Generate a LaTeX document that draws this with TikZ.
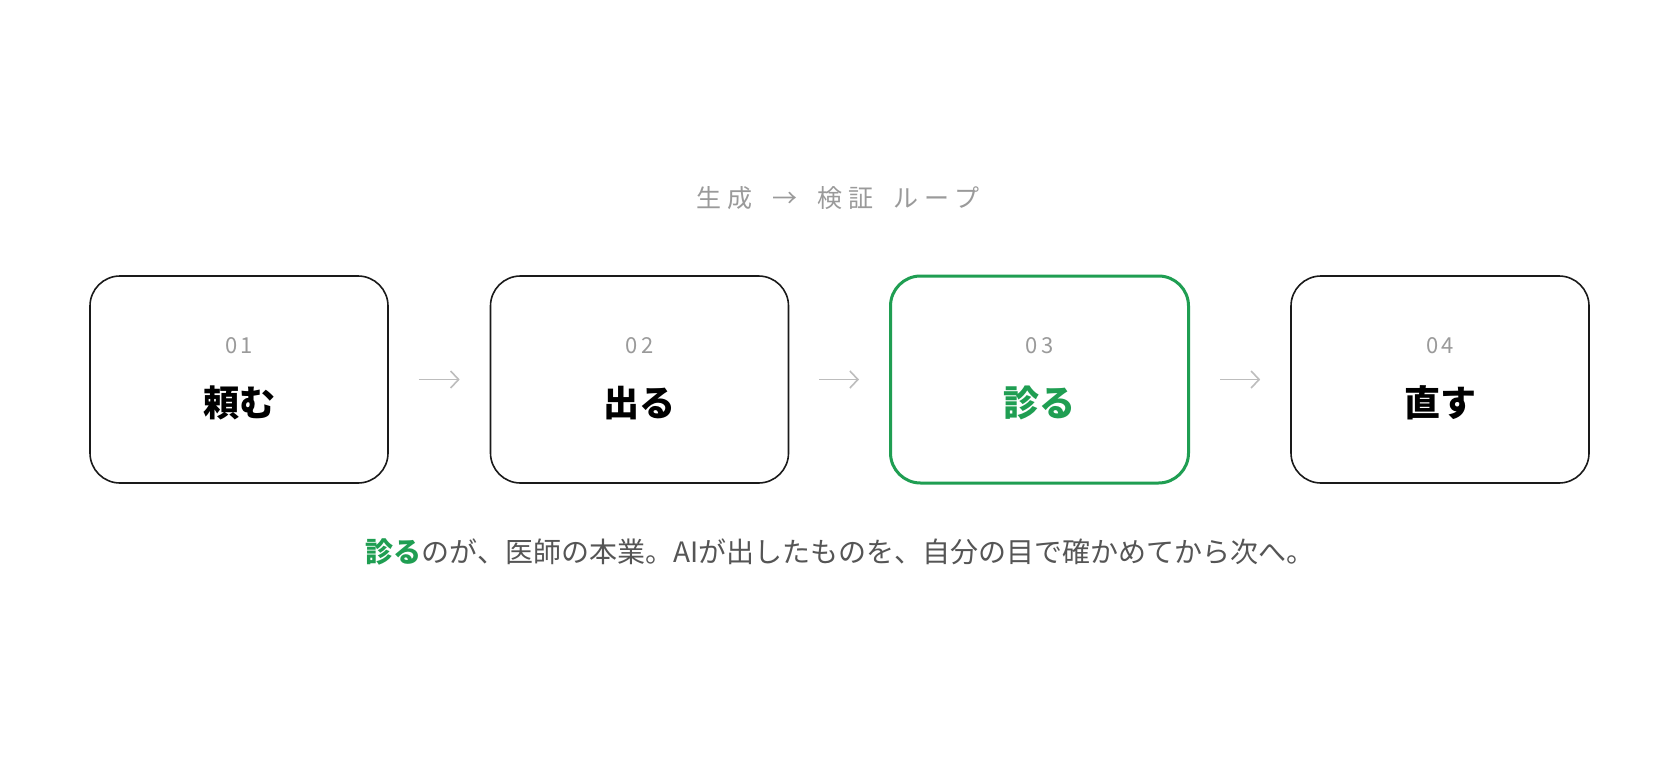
\documentclass[tikz,border=0pt]{standalone}
\usepackage{fontspec}
\setmainfont{Noto Sans CJK JP}
\usetikzlibrary{arrows.meta}
\definecolor{loopgreen}{HTML}{1F9E52}
\definecolor{boxblack}{HTML}{1A1A1A}
\definecolor{numgray}{HTML}{9A9A9A}
\definecolor{arrowgray}{HTML}{BDBDBD}
\definecolor{textgray}{HTML}{555555}
\tikzset{
  stepbox/.style={draw=boxblack,line width=1.6pt,rounded corners=30pt,
    minimum width=298pt,minimum height=207pt,inner sep=0pt},
  stepnum/.style={text=numgray,font=\fontsize{22}{22}\selectfont\addfontfeature{LetterSpace=14},inner sep=0pt},
  steplabel/.style={text=black,font=\fontsize{36}{36}\selectfont\bfseries,inner sep=0pt},
  flowarrow/.style={draw=arrowgray,line width=1.6pt,-{Straight Barb[length=8pt,width=17pt]},
    shorten <=30pt,shorten >=30pt}
}
\begin{document}
\begin{tikzpicture}[x=1pt,y=-1pt]
\useasboundingbox[fill=white] (0,0) rectangle (1680,760);
\path (838,198) node(title) [text=numgray,inner sep=0pt,
  font=\fontsize{25}{25}\selectfont\addfontfeature{LetterSpace=24}]
  {生成\hspace{20pt}→\hspace{20pt}検証\hspace{20pt}ループ};
\path (239,379.5) node(box_1) [stepbox] {};
\path (639.5,379.5) node(box_2) [stepbox] {};
\path (1039.5,379.5) node(box_3) [stepbox,draw=loopgreen,line width=3pt] {};
\path (1440,379.5) node(box_4) [stepbox] {};
\path (239,346) node(num_1) [stepnum] {01};
\path (639.5,346) node(num_2) [stepnum] {02};
\path (1039.5,346) node(num_3) [stepnum] {03};
\path (1440,346) node(num_4) [stepnum] {04};
\path (239,403) node(label_1) [steplabel] {頼む};
\path (639.5,403) node(label_2) [steplabel] {出る};
\path (1039.5,403) node(label_3) [steplabel,text=loopgreen] {診る};
\path (1440,403) node(label_4) [steplabel] {直す};
\draw[flowarrow] (box_1.east) -- (box_2.west);
\draw[flowarrow] (box_2.east) -- (box_3.west);
\draw[flowarrow] (box_3.east) -- (box_4.west);
\path (840,552) node(note) [text=textgray,inner sep=0pt,font=\fontsize{28}{28}\selectfont]
  {\textcolor{loopgreen}{\bfseries 診る}のが、医師の本業。AIが出したものを、自分の目で確かめてから次へ。};
\end{tikzpicture}
\end{document}
